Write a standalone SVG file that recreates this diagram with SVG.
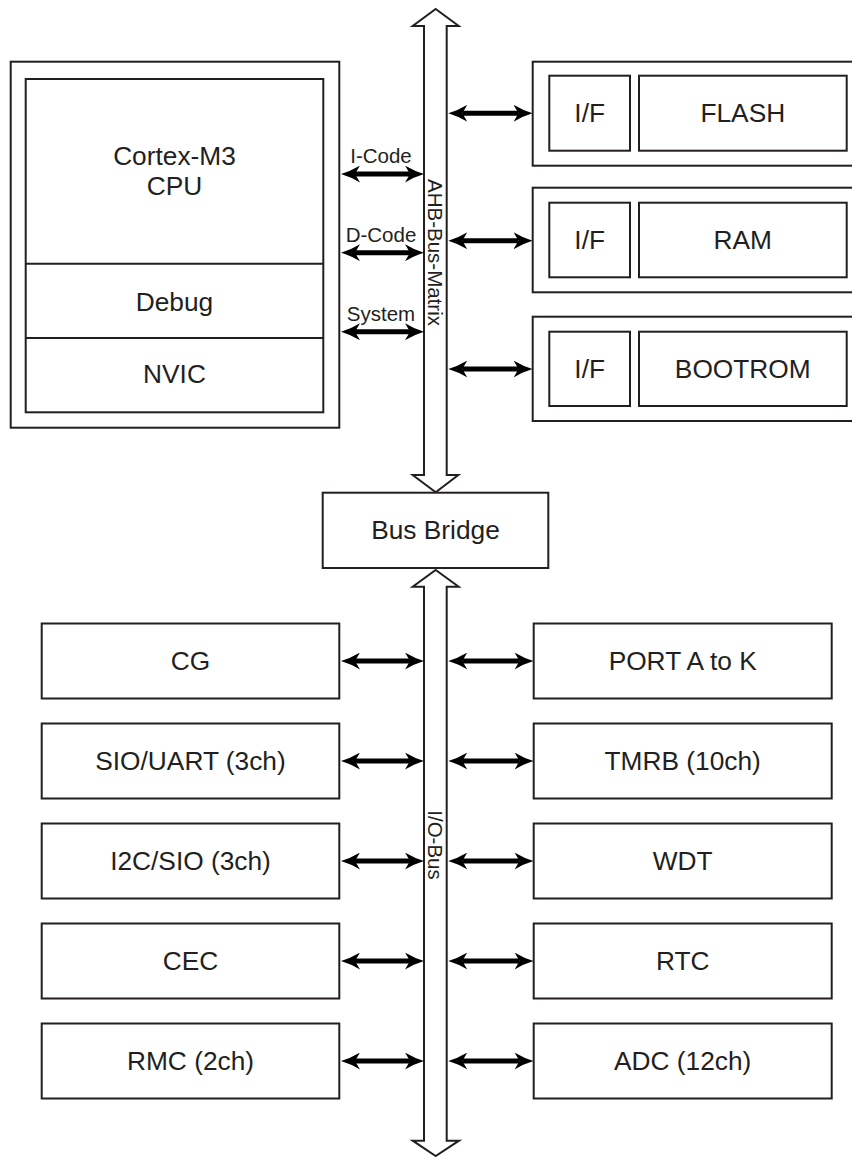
<svg xmlns="http://www.w3.org/2000/svg" width="852" height="1157" viewBox="0 0 852 1157">
<style>
.box{fill:#fff;stroke:#231f20;stroke-width:2}
.bus{fill:#fff;stroke:#231f20;stroke-width:2;stroke-linejoin:miter}
.t{font-family:"Liberation Sans",Arial,sans-serif;font-size:26.3px;fill:#231f20;text-anchor:middle}
.s{font-family:"Liberation Sans",Arial,sans-serif;font-size:20.5px;fill:#231f20;text-anchor:middle}
.v{font-family:"Liberation Sans",Arial,sans-serif;font-size:20.5px;fill:#231f20;text-anchor:middle;dominant-baseline:central}
.a{stroke:#000;stroke-width:5;fill:none;marker-start:url(#ah);marker-end:url(#ah)}
</style>
<defs>
<marker id="ah" markerUnits="userSpaceOnUse" viewBox="0 0 19 17" markerWidth="19" markerHeight="17" refX="5" refY="8.5" orient="auto-start-reverse">
<path d="M0,0 Q9,5.5 19,8.5 Q9,11.5 0,17 L5,8.5 Z" fill="#000"/>
</marker>
</defs>
<rect width="852" height="1157" fill="#fff"/>

<g id="ahb-bus">
<polygon class="bus" points="435.7,9 458.7,26 446.7,26 446.7,475 458.3,475 435.7,492.3 412.7,475 424,475 424,26 412.7,26"/>
<text class="v" transform="translate(435.5,252.5) rotate(90)">AHB-Bus-Matrix</text>
</g>

<g id="io-bus">
<polygon class="bus" points="435.7,570 458.7,586.7 446.7,586.7 446.7,1140.7 459,1140.7 435.7,1156 412.7,1140.7 424,1140.7 424,586.7 412.7,586.7"/>
<text class="v" transform="translate(435.5,845) rotate(90)">I/O-Bus</text>
</g>

<g id="cpu">
<rect class="box" x="10.7" y="61.7" width="328.6" height="366"/>
<rect class="box" x="25.7" y="79" width="297.6" height="333.3"/>
<line x1="25.7" y1="263.7" x2="323.3" y2="263.7" stroke="#231f20" stroke-width="2"/>
<line x1="25.7" y1="338" x2="323.3" y2="338" stroke="#231f20" stroke-width="2"/>
<text class="t" x="174.5" y="165">Cortex-M3</text>
<text class="t" x="174.5" y="195">CPU</text>
<text class="t" x="174.5" y="310.7">Debug</text>
<text class="t" x="174.5" y="383.3">NVIC</text>
</g>

<g id="flash">
<rect class="box" x="532.7" y="61.7" width="330" height="104"/>
<rect class="box" x="549.3" y="75.7" width="80.7" height="75"/>
<rect class="box" x="639" y="75.7" width="207.7" height="75"/>
<text class="t" x="589.7" y="122">I/F</text>
<text class="t" x="742.8" y="122">FLASH</text>
</g>
<g id="ram">
<rect class="box" x="532.7" y="187.7" width="330" height="104.6"/>
<rect class="box" x="549.3" y="202.7" width="80.7" height="74.6"/>
<rect class="box" x="639" y="202.7" width="207.7" height="74.6"/>
<text class="t" x="589.7" y="249.3">I/F</text>
<text class="t" x="742.8" y="249.3">RAM</text>
</g>
<g id="bootrom">
<rect class="box" x="532.7" y="316.7" width="330" height="104.3"/>
<rect class="box" x="549.3" y="331.7" width="80.7" height="74.3"/>
<rect class="box" x="639" y="331.7" width="207.7" height="74.3"/>
<text class="t" x="589.7" y="378.3">I/F</text>
<text class="t" x="742.8" y="378.3">BOOTROM</text>
</g>

<g id="bus-bridge">
<rect class="box" x="322.7" y="492.7" width="225.6" height="75.3"/>
<text class="t" x="435.5" y="539">Bus Bridge</text>
</g>

<g id="cg"><rect class="box" x="41.7" y="623.5" width="297.6" height="75"/><text class="t" x="190.5" y="670">CG</text></g>
<g id="sio-uart"><rect class="box" x="41.7" y="723.5" width="297.6" height="75"/><text class="t" x="190.5" y="770">SIO/UART (3ch)</text></g>
<g id="i2c-sio"><rect class="box" x="41.7" y="823.5" width="297.6" height="75"/><text class="t" x="190.5" y="870">I2C/SIO (3ch)</text></g>
<g id="cec"><rect class="box" x="41.7" y="923.5" width="297.6" height="75"/><text class="t" x="190.5" y="970">CEC</text></g>
<g id="rmc"><rect class="box" x="41.7" y="1023.5" width="297.6" height="75"/><text class="t" x="190.5" y="1070">RMC (2ch)</text></g>

<g id="port"><rect class="box" x="533.7" y="623.5" width="298" height="75"/><text class="t" x="682.7" y="670">PORT A to K</text></g>
<g id="tmrb"><rect class="box" x="533.7" y="723.5" width="298" height="75"/><text class="t" x="682.7" y="770">TMRB (10ch)</text></g>
<g id="wdt"><rect class="box" x="533.7" y="823.5" width="298" height="75"/><text class="t" x="682.7" y="870">WDT</text></g>
<g id="rtc"><rect class="box" x="533.7" y="923.5" width="298" height="75"/><text class="t" x="682.7" y="970">RTC</text></g>
<g id="adc"><rect class="box" x="533.7" y="1023.5" width="298" height="75"/><text class="t" x="682.7" y="1070">ADC (12ch)</text></g>

<g id="connectors">
<line class="a" x1="355" y1="174" x2="410" y2="174"/>
<line class="a" x1="355" y1="252.7" x2="410" y2="252.7"/>
<line class="a" x1="355" y1="331.7" x2="410" y2="331.7"/>
<text class="s" x="381" y="163.3">I-Code</text>
<text class="s" x="381" y="241.7">D-Code</text>
<text class="s" x="381" y="320.7">System</text>

<line class="a" x1="462.3" y1="113.3" x2="518.5" y2="113.3"/>
<line class="a" x1="462.3" y1="240.7" x2="518.5" y2="240.7"/>
<line class="a" x1="462.3" y1="369" x2="518.5" y2="369"/>

<line class="a" x1="355" y1="661" x2="410" y2="661"/>
<line class="a" x1="355" y1="761" x2="410" y2="761"/>
<line class="a" x1="355" y1="861" x2="410" y2="861"/>
<line class="a" x1="355" y1="961" x2="410" y2="961"/>
<line class="a" x1="355" y1="1061" x2="410" y2="1061"/>

<line class="a" x1="462.3" y1="661" x2="519.5" y2="661"/>
<line class="a" x1="462.3" y1="761" x2="519.5" y2="761"/>
<line class="a" x1="462.3" y1="861" x2="519.5" y2="861"/>
<line class="a" x1="462.3" y1="961" x2="519.5" y2="961"/>
<line class="a" x1="462.3" y1="1061" x2="519.5" y2="1061"/>
</g>
</svg>
